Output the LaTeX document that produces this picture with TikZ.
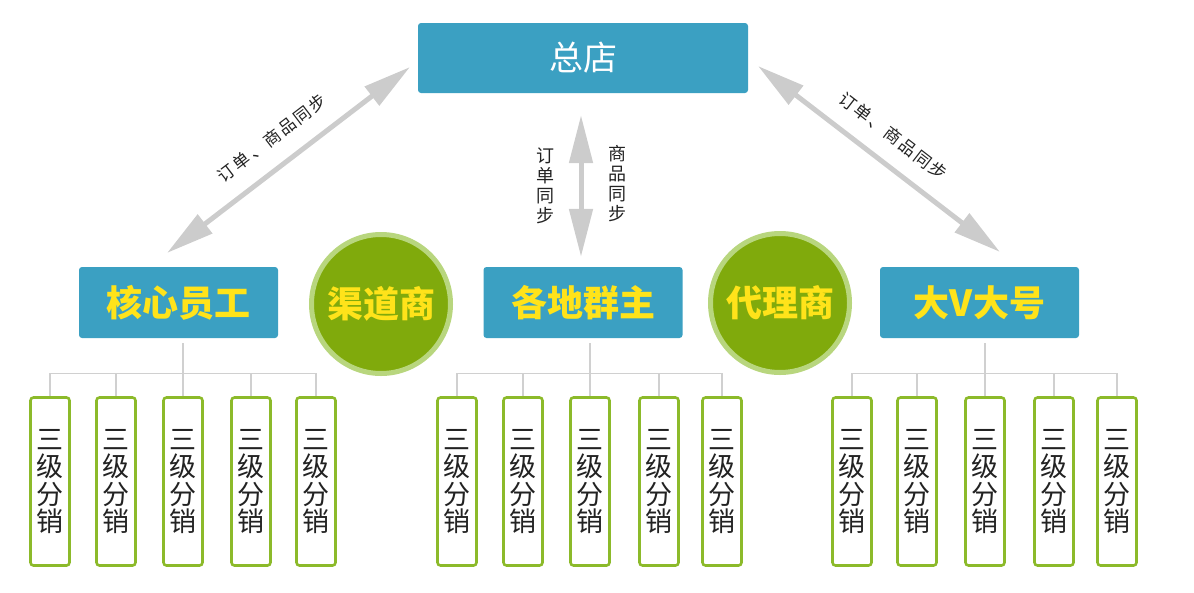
\documentclass[tikz,border=0pt]{standalone}
\usepackage{fontspec}
\setmainfont{Noto Sans CJK SC}
\newfontfamily\cjk{Noto Sans CJK SC}
\newfontfamily\cjksp[LetterSpace=12]{Noto Sans CJK SC}
\usetikzlibrary{arrows.meta}
\definecolor{boxblue}{HTML}{3BA0C2}
\definecolor{ringgreen}{HTML}{B8D67E}
\definecolor{circgreen}{HTML}{80AA0C}
\definecolor{leafgreen}{HTML}{8CBA2A}
\definecolor{txtyellow}{HTML}{FFE31A}
\definecolor{arrowgray}{HTML}{CCCCCC}
\definecolor{linegray}{HTML}{D0D0D0}
\definecolor{leaftext}{HTML}{222222}
\tikzset{
  mainbox/.style={fill=boxblue, rounded corners=3pt, minimum width=330pt, minimum height=70pt,
    text=white, font=\cjk\fontsize{34}{40}\selectfont},
  subbox/.style={fill=boxblue, rounded corners=3pt, minimum width=199pt, minimum height=71pt,
    text=txtyellow, font=\cjk\bfseries\fontsize{36}{42}\selectfont},
  roundnode/.style={circle, fill=circgreen, draw=ringgreen, line width=5pt, minimum size=139pt,
    inner sep=0pt, text=txtyellow, font=\cjk\bfseries\fontsize{36}{42}\selectfont},
  leaf/.style={draw=leafgreen, fill=white, line width=2.6pt, rounded corners=3pt,
    minimum width=39pt, minimum height=168pt, inner sep=0pt, align=center, text=leaftext,
    font=\cjk\fontsize{27}{27.5}\selectfont},
  syncarrow/.style={draw=arrowgray, line width=5pt, {Triangle[length=48pt,width=23pt]}-{Triangle[length=48pt,width=23pt]}},
  conn/.style={draw=linegray, line width=1.4pt},
  synclabel/.style={text=leaftext, font=\cjk\fontsize{18}{20}\selectfont, align=center, inner sep=0pt},
  diaglabel/.style={text=leaftext, font=\cjksp\fontsize{17}{20}\selectfont, inner sep=0pt}
}
\begin{document}
\begin{tikzpicture}[x=1pt,y=-1pt]
\useasboundingbox (0,0) rectangle (1194,592);
% main boxes
\node[mainbox] (top) at (583,58) {总店};
\node[subbox] (lb) at (178.5,302.5) {核心员工};
\node[subbox] (mb) at (583,302.5) {各地群主};
\node[subbox] (rb) at (979.5,302.5) {大V大号};
\node[roundnode] (c1) at (381,304) {渠道商};
\node[roundnode] (c2) at (780,303) {代理商};
% sync arrows
\coordinate (la1) at (410,67);
\coordinate (la2) at (167,253);
\coordinate (ra1) at (758,66);
\coordinate (ra2) at (1000,252);
\draw[syncarrow] (la1) -- (la2);
\draw[syncarrow] (ra1) -- (ra2);
\draw[syncarrow, shorten <=22pt, shorten >=10pt] ([xshift=-2pt]top.south) -- ([xshift=-2pt]mb.north);
\node[diaglabel, rotate=37.4] (ll) at (272,138) {订单、商品同步};
\node[diaglabel, rotate=-37.7] (rl) at (893,136) {订单、商品同步};
\node[synclabel] (ml1) at (545,186) {订\\单\\同\\步};
\node[synclabel] (ml2) at (617,183.5) {商\\品\\同\\步};
% leaves
\foreach \g/\xs in {L/{50,116,183,251,316}, M/{457,523,590,659,722}, R/{852,917,985,1054,1117}}{
  \foreach \x [count=\i] in \xs {
    \node[leaf] (\g\i) at (\x,481.5) {三\\级\\分\\销};
  }
}
% tree connectors
\foreach \g/\p in {L/lb, M/mb, R/rb}{
  \draw[conn] (\g1.north) -- ++(0,-23) -| (\g5.north);
  \draw[conn] (\g2.north) -- ++(0,-23);
  \draw[conn] (\g4.north) -- ++(0,-23);
  \draw[conn, shorten >=5pt] (\g3.north) -- (\g3.north |- \p.south);
}
\end{tikzpicture}
\end{document}
